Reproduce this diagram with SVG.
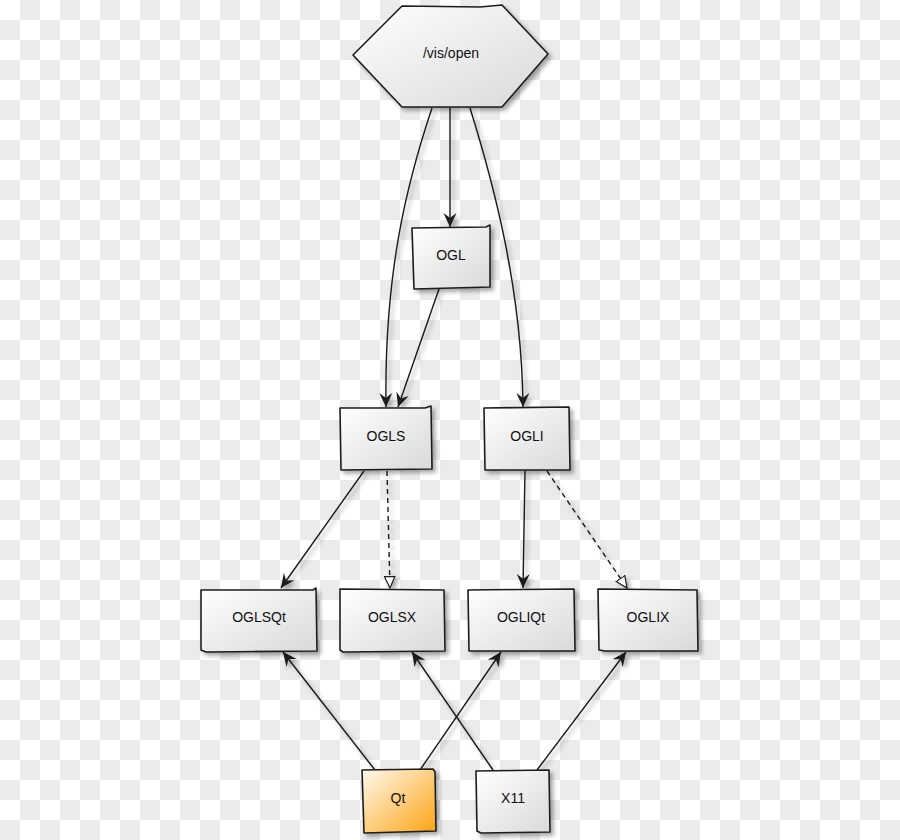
<svg xmlns="http://www.w3.org/2000/svg" width="900" height="840" viewBox="0 0 900 840">
<defs>
  <pattern id="checker" width="40" height="40" patternUnits="userSpaceOnUse">
    <rect width="40" height="40" fill="#ffffff"/>
    <rect x="20" y="0" width="20" height="20" fill="#ebebeb"/>
    <rect x="0" y="20" width="20" height="20" fill="#ebebeb"/>
  </pattern>
  <linearGradient id="gray" x1="0" y1="0" x2="1" y2="1">
    <stop offset="0" stop-color="#ffffff"/>
    <stop offset="1" stop-color="#d9d9d9"/>
  </linearGradient>
  <linearGradient id="orange" x1="0" y1="0" x2="1" y2="1">
    <stop offset="0" stop-color="#fffaf0"/>
    <stop offset="1" stop-color="#fca311"/>
  </linearGradient>
  <filter id="shadow" filterUnits="userSpaceOnUse" x="0" y="0" width="900" height="840">
    <feDropShadow dx="3" dy="3" stdDeviation="2.2" flood-color="#000" flood-opacity="0.35"/>
  </filter>
  <marker id="arrow" markerUnits="userSpaceOnUse" markerWidth="16" markerHeight="14" refX="14" refY="7" orient="auto">
    <path d="M0,0.5 L14,7 L0,13.5 L5,7 Z" fill="#1a1a1a"/>
  </marker>
  <marker id="hollow" markerUnits="userSpaceOnUse" markerWidth="14" markerHeight="12" refX="12" refY="6" orient="auto">
    <path d="M0.5,0.8 L12,6 L0.5,11.2 Z" fill="#ffffff" stroke="#1a1a1a" stroke-width="1.2"/>
  </marker>
  <style>
    .node { stroke: #1e1e1e; stroke-width: 1.6; stroke-linejoin: round; filter: url(#shadow); }
    .g { fill: url(#gray); }
    .o { fill: url(#orange); }
    .lbl { font-family: "Liberation Sans", "DejaVu Sans", sans-serif; font-size: 14px; fill: #111; text-anchor: middle; dominant-baseline: central; }
    .edge { fill: none; stroke: #1a1a1a; stroke-width: 1.4; filter: url(#shadow); }
    .solid { marker-end: url(#arrow); }
    .dashed { stroke-dasharray: 5 4; marker-end: url(#hollow); }
  </style>
</defs>

<rect width="900" height="840" fill="url(#checker)"/>

<g id="connectors">
  <path class="edge solid" d="M450,108 L450,227"/>
  <path class="edge solid" d="M432,108 C408,180 384,270 386,407"/>
  <path class="edge solid" d="M470,108 C494,185 522,290 523,407"/>
  <path class="edge solid" d="M439,289 L398,407"/>
  <path class="edge solid" d="M364,471 L281,588"/>
  <path class="edge dashed" d="M387,471 L390,588"/>
  <path class="edge solid" d="M525,471 L523,588"/>
  <path class="edge dashed" d="M547,471 L627,588"/>
  <path class="edge solid" d="M375,770 L283,652"/>
  <path class="edge solid" d="M420,770 L501,652"/>
  <path class="edge solid" d="M493,770 L412,652"/>
  <path class="edge solid" d="M537,770 L626,652"/>
</g>

<g id="node-visopen">
  <path class="node g" d="M353,55 L402,6 L480,7 L502,5 L548,54 L502,107 L402,107 Z"/>
  <text class="lbl" x="451" y="53">/vis/open</text>
</g>

<g id="node-OGL">
  <path class="node g" d="M412,228 L486,227 L490,225 L490,287 L414,289 Z"/>
  <text class="lbl" x="451" y="255">OGL</text>
</g>

<g id="node-OGLS">
  <path class="node g" d="M340,408 L425,408 L431,406 L432,469 L341,470 Z"/>
  <text class="lbl" x="386" y="436">OGLS</text>
</g>

<g id="node-OGLI">
  <path class="node g" d="M484,408 L569,407 L570,470 L485,470 Z"/>
  <text class="lbl" x="527" y="436">OGLI</text>
</g>

<g id="node-OGLSQt">
  <path class="node g" d="M201,590 L313,590 L316,588 L317,651 L206,652 L201,650 Z"/>
  <text class="lbl" x="259" y="617">OGLSQt</text>
</g>

<g id="node-OGLSX">
  <path class="node g" d="M340,589 L444,590 L445,651 L343,652 L340,650 Z"/>
  <text class="lbl" x="392" y="617">OGLSX</text>
</g>

<g id="node-OGLIQt">
  <path class="node g" d="M468,590 L574,589 L575,651 L469,651 Z"/>
  <text class="lbl" x="521" y="617">OGLIQt</text>
</g>

<g id="node-OGLIX">
  <path class="node g" d="M598,589 L697,590 L698,651 L605,651 L599,650 Z"/>
  <text class="lbl" x="648" y="617">OGLIX</text>
</g>

<g id="node-Qt">
  <path class="node o" d="M362,770 L433,769 L435,772 L436,831 L364,833 Z"/>
  <text class="lbl" x="398" y="798">Qt</text>
</g>

<g id="node-X11">
  <path class="node g" d="M476,771 L549,770 L550,832 L481,833 L477,831 Z"/>
  <text class="lbl" x="513" y="798">X11</text>
</g>
</svg>
